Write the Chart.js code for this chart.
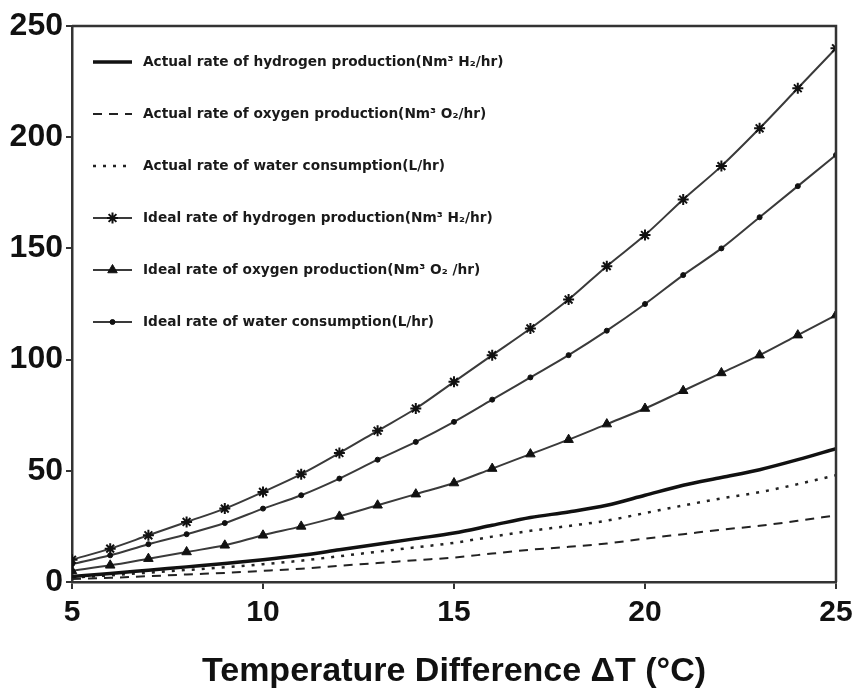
<!DOCTYPE html>
<html><head><meta charset="utf-8">
<script src="https://cdn.jsdelivr.net/npm/chart.js@4.4.0/dist/chart.umd.min.js"></script>
<style>html,body{margin:0;padding:0;background:#fff}#wrap{width:855px;height:692px}</style>
</head><body><div id="wrap"><canvas id="c" width="855" height="692"></canvas></div>
<script>
const temperatures = [5,6,7,8,9,10,11,12,13,14,15,16,17,18,19,20,21,22,23,24,25];
const actualHydrogen = [2.5,3.8,5.3,6.8,8.3,10,12,14.5,17,19.5,22,25.5,29,31.5,34.5,39,43.5,47,50.5,55,60];
const actualOxygen = [1.3,1.9,2.6,3.4,4.1,5,6,7.3,8.5,9.8,11,12.8,14.5,15.8,17.3,19.5,21.5,23.5,25.3,27.5,30];
const actualWater = [2,3,4.2,5.4,6.6,8,9.6,11.6,13.6,15.6,17.6,20.4,23,25.2,27.6,31,34.4,37.6,40.4,44,48];
const idealHydrogen = [10,15,21,27,33,40.5,48.5,58,68,78,90,102,114,127,142,156,172,187,204,222,240];
const idealOxygen = [5,7.5,10.5,13.5,16.5,21,25,29.5,34.5,39.5,44.5,51,57.5,64,71,78,86,94,102,111,120];
const idealWater = [8,12,17,21.5,26.5,33,39,46.5,55,63,72,82,92,102,113,125,138,150,164,178,192];
const xTicks = [5,10,15,20,25];
const yTicks = [0,50,100,150,200,250];
const seriesLabels = [
  'Actual rate of hydrogen production(Nm\u00B3 H\u2082/hr)',
  'Actual rate of oxygen production(Nm\u00B3 O\u2082/hr)',
  'Actual rate of water consumption(L/hr)',
  'Ideal rate of hydrogen production(Nm\u00B3 H\u2082/hr)',
  'Ideal rate of oxygen production(Nm\u00B3 O\u2082 /hr)',
  'Ideal rate of water consumption(L/hr)'
];
const xTitle = 'Temperature Difference \u0394T (\u00B0C)';

const pts = arr => arr.map((v,i)=>({x: temperatures[i], y: v}));

const frame = {
  id:'frame',
  afterDatasetsDraw(chart){
    const {ctx, chartArea:a} = chart;
    ctx.save();
    ctx.strokeStyle='#333'; ctx.lineWidth=2.5;
    ctx.beginPath();
    ctx.moveTo(a.left, a.top); ctx.lineTo(a.right, a.top); ctx.lineTo(a.right, a.bottom);
    ctx.stroke();
    ctx.restore();
  }
};

const innerLegend = {
  id:'innerLegend',
  afterDatasetsDraw(chart){
    const ctx = chart.ctx, a = chart.chartArea;
    const x0 = a.left + 21, len = 39, tx = a.left + 71, y0 = a.top + 36, gap = 52;
    chart.data.datasets.forEach((ds,i)=>{
      const y = y0 + i*gap;
      ctx.save();
      ctx.strokeStyle = ds.borderColor; ctx.lineWidth = ds.borderWidth;
      ctx.lineCap = 'butt';
      ctx.setLineDash(ds.borderDash || []);
      ctx.beginPath(); ctx.moveTo(x0,y); ctx.lineTo(x0+len,y); ctx.stroke();
      ctx.setLineDash([]);
      if (ds.pointRadius > 0) {
        ctx.fillStyle = ds.pointBackgroundColor; ctx.strokeStyle = ds.pointBorderColor;
        ctx.lineWidth = ds.pointBorderWidth;
        Chart.helpers.drawPoint(ctx,{pointStyle:ds.pointStyle,radius:ds.pointRadius,rotation:0,borderWidth:ds.pointBorderWidth},x0+len/2,y);
      }
      ctx.fillStyle='#1a1a1a'; ctx.font='bold 13.7px "DejaVu Sans", Arial, sans-serif';
      ctx.textBaseline='middle'; ctx.textAlign='left';
      ctx.fillText(ds.label, tx, y);
      ctx.restore();
    });
  }
};

const base = {fill:false, cubicInterpolationMode:'monotone'};
new Chart(document.getElementById('c'), {
  type:'line',
  data:{datasets:[
    {...base, label:seriesLabels[0], data:pts(actualHydrogen), borderColor:'#111', borderWidth:3.5, pointRadius:0},
    {...base, label:seriesLabels[1], data:pts(actualOxygen), borderColor:'#222', borderWidth:2, borderDash:[9,7], pointRadius:0},
    {...base, label:seriesLabels[2], data:pts(actualWater), borderColor:'#222', borderWidth:2.5, borderDash:[3,7], pointRadius:0},
    {...base, label:seriesLabels[3], data:pts(idealHydrogen), borderColor:'#3a3a3a', borderWidth:2, pointStyle:'star', pointRadius:5.5, pointBorderWidth:2, pointBackgroundColor:'#111', pointBorderColor:'#111'},
    {...base, label:seriesLabels[4], data:pts(idealOxygen), borderColor:'#3a3a3a', borderWidth:2, pointStyle:'triangle', pointRadius:5.5, pointBorderWidth:1, pointBackgroundColor:'#111', pointBorderColor:'#111'},
    {...base, label:seriesLabels[5], data:pts(idealWater), borderColor:'#3a3a3a', borderWidth:2, pointStyle:'circle', pointRadius:2.5, pointBorderWidth:1, pointBackgroundColor:'#111', pointBorderColor:'#111'}
  ]},
  options:{
    responsive:false, animation:false, devicePixelRatio:1,
    layout:{padding:{top:26,right:19,left:0,bottom:0}},
    plugins:{legend:{display:false}, tooltip:{enabled:false}},
    scales:{
      x:{type:'linear', min:5, max:25,
        afterBuildTicks(s){ s.ticks = xTicks.map(v=>({value:v})); },
        afterFit(s){ s.height = 110; s.paddingLeft = 0; s.paddingRight = 0; },
        border:{display:true, color:'#333', width:2.5},
        grid:{display:true, drawOnChartArea:false, tickLength:7, color:'#333', lineWidth:2},
        ticks:{color:'#111', padding:6, maxRotation:0, font:{family:'"Liberation Sans", Arial', size:30, weight:'bold'}},
        title:{display:true, text:xTitle, color:'#111', padding:{top:6,bottom:0}, font:{family:'"Liberation Sans", Arial', size:34, weight:'bold'}}
      },
      y:{min:0, max:250,
        afterBuildTicks(s){ s.ticks = yTicks.map(v=>({value:v})); },
        afterFit(s){ s.width = 72; s.paddingTop = 0; s.paddingBottom = 0; },
        border:{display:true, color:'#333', width:2.5},
        grid:{display:true, drawOnChartArea:false, tickLength:6, color:'#333', lineWidth:2},
        ticks:{color:'#111', padding:3, font:{family:'"Liberation Sans", Arial', size:32, weight:'bold'}}
      }
    }
  },
  plugins:[frame, innerLegend]
});
</script></body></html>
